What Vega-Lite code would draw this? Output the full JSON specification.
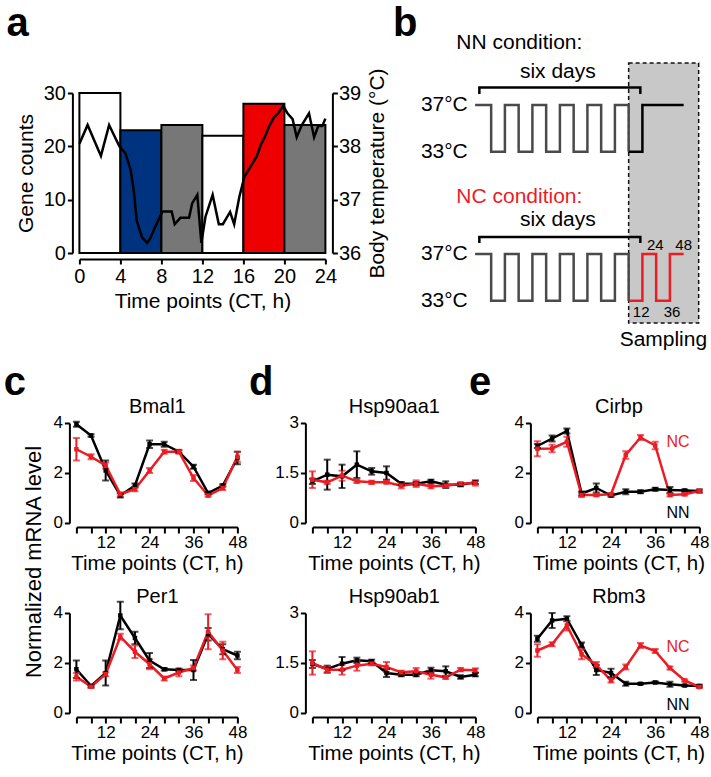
{
"$schema": "https://vega.github.io/schema/vega-lite/v6.json",
"padding": {"left": 3.4, "top": 3, "right": 4, "bottom": 4},
"config": {
  "font": "Liberation Sans",
  "view": {"stroke": null},
  "axis": {"grid": false, "domainColor": "#000", "domainWidth": 2, "tickColor": "#000", "tickWidth": 2, "labelColor": "#000", "titleColor": "#000", "labelFlush": false, "titleFontWeight": "normal", "labelOverlap": false},
  "title": {"fontWeight": "bold", "fontSize": 40, "anchor": "start", "frame": "group", "baseline": "alphabetic", "color": "#000"}
},
"datasets": {
  "bars": [
    {"start": 0, "end": 4, "count": 30, "bin": "CT0-4"},
    {"start": 4, "end": 8, "count": 23, "bin": "CT4-8"},
    {"start": 8, "end": 12, "count": 24, "bin": "CT8-12"},
    {"start": 12, "end": 16, "count": 22, "bin": "CT12-16"},
    {"start": 16, "end": 20, "count": 28, "bin": "CT16-20"},
    {"start": 20, "end": 24, "count": 24, "bin": "CT20-24"}
  ],
  "temp": [
    {"t": 0, "temp": 38.05}, {"t": 0.8, "temp": 38.4}, {"t": 2.1, "temp": 37.82}, {"t": 2.9, "temp": 38.4}, {"t": 3.4, "temp": 38.2},
    {"t": 3.9, "temp": 38.0}, {"t": 4.5, "temp": 37.87}, {"t": 5.0, "temp": 37.56}, {"t": 5.3, "temp": 37.18}, {"t": 5.6, "temp": 36.6},
    {"t": 6.1, "temp": 36.3}, {"t": 6.6, "temp": 36.19}, {"t": 6.9, "temp": 36.27}, {"t": 7.4, "temp": 36.49}, {"t": 8.1, "temp": 36.78},
    {"t": 9.0, "temp": 36.78}, {"t": 9.3, "temp": 36.54}, {"t": 9.85, "temp": 36.66}, {"t": 10.7, "temp": 36.66}, {"t": 11.0, "temp": 36.93},
    {"t": 11.5, "temp": 37.09}, {"t": 11.9, "temp": 36.19}, {"t": 12.3, "temp": 36.68}, {"t": 13.0, "temp": 37.09}, {"t": 13.6, "temp": 36.54},
    {"t": 14.0, "temp": 36.54}, {"t": 14.7, "temp": 36.77}, {"t": 15.1, "temp": 36.54}, {"t": 15.6, "temp": 37.05}, {"t": 16.1, "temp": 37.43},
    {"t": 16.7, "temp": 37.62}, {"t": 17.3, "temp": 37.81}, {"t": 17.7, "temp": 38.03}, {"t": 18.1, "temp": 38.18}, {"t": 18.5, "temp": 38.37},
    {"t": 19.0, "temp": 38.55}, {"t": 19.4, "temp": 38.62}, {"t": 19.9, "temp": 38.76}, {"t": 20.3, "temp": 38.62}, {"t": 20.8, "temp": 38.51},
    {"t": 21.2, "temp": 38.17}, {"t": 21.7, "temp": 38.4}, {"t": 22.4, "temp": 38.62}, {"t": 22.9, "temp": 38.17}, {"t": 23.3, "temp": 38.38},
    {"t": 23.7, "temp": 38.38}, {"t": 24.0, "temp": 38.52}
  ],
  "wave": [
    {"cond": "NN", "series": "pre", "t": -134, "y": 37}, {"cond": "NN", "series": "pre", "t": -120, "y": 33},
    {"cond": "NN", "series": "pre", "t": -108, "y": 37}, {"cond": "NN", "series": "pre", "t": -96, "y": 33},
    {"cond": "NN", "series": "pre", "t": -84, "y": 37}, {"cond": "NN", "series": "pre", "t": -72, "y": 33},
    {"cond": "NN", "series": "pre", "t": -60, "y": 37}, {"cond": "NN", "series": "pre", "t": -48, "y": 33},
    {"cond": "NN", "series": "pre", "t": -36, "y": 37}, {"cond": "NN", "series": "pre", "t": -24, "y": 33},
    {"cond": "NN", "series": "pre", "t": -12, "y": 37}, {"cond": "NN", "series": "pre", "t": 0, "y": 33},
    {"cond": "NN", "series": "NN", "t": 0, "y": 33}, {"cond": "NN", "series": "NN", "t": 12, "y": 37}, {"cond": "NN", "series": "NN", "t": 48, "y": 37},
    {"cond": "NC", "series": "pre", "t": -134, "y": 37}, {"cond": "NC", "series": "pre", "t": -120, "y": 33},
    {"cond": "NC", "series": "pre", "t": -108, "y": 37}, {"cond": "NC", "series": "pre", "t": -96, "y": 33},
    {"cond": "NC", "series": "pre", "t": -84, "y": 37}, {"cond": "NC", "series": "pre", "t": -72, "y": 33},
    {"cond": "NC", "series": "pre", "t": -60, "y": 37}, {"cond": "NC", "series": "pre", "t": -48, "y": 33},
    {"cond": "NC", "series": "pre", "t": -36, "y": 37}, {"cond": "NC", "series": "pre", "t": -24, "y": 33},
    {"cond": "NC", "series": "pre", "t": -12, "y": 37}, {"cond": "NC", "series": "pre", "t": 0, "y": 33},
    {"cond": "NC", "series": "NC", "t": 0, "y": 33}, {"cond": "NC", "series": "NC", "t": 12, "y": 37}, {"cond": "NC", "series": "NC", "t": 24, "y": 33},
    {"cond": "NC", "series": "NC", "t": 36, "y": 37}, {"cond": "NC", "series": "NC", "t": 48, "y": 37}
  ],
  "brk": [
    {"cond": "NN", "o": 1, "t": -130.3, "y": 37.95}, {"cond": "NN", "o": 2, "t": -130.3, "y": 38.5},
    {"cond": "NN", "o": 3, "t": 10.2, "y": 38.5}, {"cond": "NN", "o": 4, "t": 10.2, "y": 37.95},
    {"cond": "NC", "o": 1, "t": -130.3, "y": 37.94}, {"cond": "NC", "o": 2, "t": -130.3, "y": 38.45},
    {"cond": "NC", "o": 3, "t": 10.2, "y": 38.45}, {"cond": "NC", "o": 4, "t": 10.2, "y": 37.94}
  ],
  "btext": [
    {"cond": "NN", "kind": "temp", "t": -140.4, "y": 37, "txt": "37°C", "series": "NN"},
    {"cond": "NN", "kind": "temp", "t": -140.4, "y": 33, "txt": "33°C", "series": "NN"},
    {"cond": "NN", "kind": "head", "t": -95.4, "y": 42.3, "txt": "NN condition:", "series": "NN"},
    {"cond": "NN", "kind": "head", "t": -61.8, "y": 39.82, "txt": "six days", "series": "NN"},
    {"cond": "NC", "kind": "temp", "t": -140.4, "y": 37, "txt": "37°C", "series": "NN"},
    {"cond": "NC", "kind": "temp", "t": -140.4, "y": 33, "txt": "33°C", "series": "NN"},
    {"cond": "NC", "kind": "head", "t": -95.4, "y": 41.87, "txt": "NC condition:", "series": "NC"},
    {"cond": "NC", "kind": "head", "t": -61.8, "y": 39.91, "txt": "six days", "series": "NN"},
    {"cond": "NC", "kind": "head", "t": 30.3, "y": 29.65, "txt": "Sampling", "series": "NN"},
    {"cond": "NC", "kind": "num", "t": 10.9, "y": 32.07, "txt": "12", "series": "NN"},
    {"cond": "NC", "kind": "num", "t": 23.3, "y": 37.77, "txt": "24", "series": "NN"},
    {"cond": "NC", "kind": "num", "t": 37.8, "y": 32.07, "txt": "36", "series": "NN"},
    {"cond": "NC", "kind": "num", "t": 48, "y": 37.77, "txt": "48", "series": "NN"}
  ],
  "box": [{"t0": 0, "t1": 61.1, "ytop": 40.59, "ybot": 18.37}],
  "tags": [
    {"g": "Cirbp", "c": "NC", "t": 42.2, "v": 3.23, "txt": "NC"},
    {"g": "Cirbp", "c": "NN", "t": 42.2, "v": 0.39, "txt": "NN"},
    {"g": "Rbm3", "c": "NC", "t": 42.2, "v": 2.63, "txt": "NC"},
    {"g": "Rbm3", "c": "NN", "t": 42.2, "v": 0.31, "txt": "NN"}
  ],
  "expr": [
    {"g":"Bmal1","c":"NN","t":4,"v":3.95,"e":0.1},{"g":"Bmal1","c":"NN","t":8,"v":3.5,"e":0.05},{"g":"Bmal1","c":"NN","t":12,"v":2.1,"e":0.4},{"g":"Bmal1","c":"NN","t":16,"v":1.1,"e":0.08},{"g":"Bmal1","c":"NN","t":20,"v":1.5,"e":0.08},{"g":"Bmal1","c":"NN","t":24,"v":3.15,"e":0.15},{"g":"Bmal1","c":"NN","t":28,"v":3.15,"e":0.1},{"g":"Bmal1","c":"NN","t":32,"v":2.85,"e":0.05},{"g":"Bmal1","c":"NN","t":36,"v":2.25,"e":0.08},{"g":"Bmal1","c":"NN","t":40,"v":1.2,"e":0.05},{"g":"Bmal1","c":"NN","t":44,"v":1.5,"e":0.05},{"g":"Bmal1","c":"NN","t":48,"v":2.6,"e":0.25},
    {"g":"Bmal1","c":"NC","t":4,"v":2.95,"e":0.45},{"g":"Bmal1","c":"NC","t":8,"v":2.65,"e":0.1},{"g":"Bmal1","c":"NC","t":12,"v":2.3,"e":0.12},{"g":"Bmal1","c":"NC","t":16,"v":1.15,"e":0.08},{"g":"Bmal1","c":"NC","t":20,"v":1.35,"e":0.08},{"g":"Bmal1","c":"NC","t":24,"v":2.1,"e":0.1},{"g":"Bmal1","c":"NC","t":28,"v":2.85,"e":0.08},{"g":"Bmal1","c":"NC","t":32,"v":2.85,"e":0.08},{"g":"Bmal1","c":"NC","t":36,"v":1.8,"e":0.12},{"g":"Bmal1","c":"NC","t":40,"v":1.1,"e":0.05},{"g":"Bmal1","c":"NC","t":44,"v":1.4,"e":0.08},{"g":"Bmal1","c":"NC","t":48,"v":2.65,"e":0.2},
    {"g":"Per1","c":"NN","t":4,"v":1.75,"e":0.35},{"g":"Per1","c":"NN","t":8,"v":1.08,"e":0.05},{"g":"Per1","c":"NN","t":12,"v":1.6,"e":0.5},{"g":"Per1","c":"NN","t":16,"v":3.9,"e":0.55},{"g":"Per1","c":"NN","t":20,"v":3.0,"e":0.25},{"g":"Per1","c":"NN","t":24,"v":2.1,"e":0.3},{"g":"Per1","c":"NN","t":28,"v":1.75,"e":0.05},{"g":"Per1","c":"NN","t":32,"v":1.72,"e":0.05},{"g":"Per1","c":"NN","t":36,"v":1.72,"e":0.4},{"g":"Per1","c":"NN","t":40,"v":3.15,"e":0.25},{"g":"Per1","c":"NN","t":44,"v":2.55,"e":0.2},{"g":"Per1","c":"NN","t":48,"v":2.3,"e":0.15},
    {"g":"Per1","c":"NC","t":4,"v":1.45,"e":0.15},{"g":"Per1","c":"NC","t":8,"v":1.05,"e":0.05},{"g":"Per1","c":"NC","t":12,"v":1.55,"e":0.08},{"g":"Per1","c":"NC","t":16,"v":3.05,"e":0.12},{"g":"Per1","c":"NC","t":20,"v":2.45,"e":0.25},{"g":"Per1","c":"NC","t":24,"v":1.95,"e":0.2},{"g":"Per1","c":"NC","t":28,"v":1.38,"e":0.08},{"g":"Per1","c":"NC","t":32,"v":1.62,"e":0.15},{"g":"Per1","c":"NC","t":36,"v":1.8,"e":0.1},{"g":"Per1","c":"NC","t":40,"v":3.25,"e":0.7},{"g":"Per1","c":"NC","t":44,"v":2.5,"e":0.35},{"g":"Per1","c":"NC","t":48,"v":1.72,"e":0.12},
    {"g":"Hsp90aa1","c":"NN","t":4,"v":1.25,"e":0.08},{"g":"Hsp90aa1","c":"NN","t":8,"v":1.45,"e":0.45},{"g":"Hsp90aa1","c":"NN","t":12,"v":1.4,"e":0.35},{"g":"Hsp90aa1","c":"NN","t":16,"v":1.75,"e":0.4},{"g":"Hsp90aa1","c":"NN","t":20,"v":1.55,"e":0.1},{"g":"Hsp90aa1","c":"NN","t":24,"v":1.5,"e":0.2},{"g":"Hsp90aa1","c":"NN","t":28,"v":1.18,"e":0.05},{"g":"Hsp90aa1","c":"NN","t":32,"v":1.18,"e":0.05},{"g":"Hsp90aa1","c":"NN","t":36,"v":1.25,"e":0.05},{"g":"Hsp90aa1","c":"NN","t":40,"v":1.15,"e":0.1},{"g":"Hsp90aa1","c":"NN","t":44,"v":1.15,"e":0.05},{"g":"Hsp90aa1","c":"NN","t":48,"v":1.22,"e":0.05},
    {"g":"Hsp90aa1","c":"NC","t":4,"v":1.3,"e":0.25},{"g":"Hsp90aa1","c":"NC","t":8,"v":1.22,"e":0.05},{"g":"Hsp90aa1","c":"NC","t":12,"v":1.42,"e":0.15},{"g":"Hsp90aa1","c":"NC","t":16,"v":1.25,"e":0.05},{"g":"Hsp90aa1","c":"NC","t":20,"v":1.22,"e":0.05},{"g":"Hsp90aa1","c":"NC","t":24,"v":1.22,"e":0.04},{"g":"Hsp90aa1","c":"NC","t":28,"v":1.12,"e":0.08},{"g":"Hsp90aa1","c":"NC","t":32,"v":1.18,"e":0.1},{"g":"Hsp90aa1","c":"NC","t":36,"v":1.1,"e":0.06},{"g":"Hsp90aa1","c":"NC","t":40,"v":1.12,"e":0.04},{"g":"Hsp90aa1","c":"NC","t":44,"v":1.18,"e":0.04},{"g":"Hsp90aa1","c":"NC","t":48,"v":1.2,"e":0.08},
    {"g":"Hsp90ab1","c":"NN","t":4,"v":1.47,"e":0.12},{"g":"Hsp90ab1","c":"NN","t":8,"v":1.32,"e":0.1},{"g":"Hsp90ab1","c":"NN","t":12,"v":1.48,"e":0.2},{"g":"Hsp90ab1","c":"NN","t":16,"v":1.58,"e":0.08},{"g":"Hsp90ab1","c":"NN","t":20,"v":1.55,"e":0.05},{"g":"Hsp90ab1","c":"NN","t":24,"v":1.2,"e":0.12},{"g":"Hsp90ab1","c":"NN","t":28,"v":1.15,"e":0.05},{"g":"Hsp90ab1","c":"NN","t":32,"v":1.15,"e":0.05},{"g":"Hsp90ab1","c":"NN","t":36,"v":1.28,"e":0.08},{"g":"Hsp90ab1","c":"NN","t":40,"v":1.25,"e":0.15},{"g":"Hsp90ab1","c":"NN","t":44,"v":1.08,"e":0.05},{"g":"Hsp90ab1","c":"NN","t":48,"v":1.15,"e":0.05},
    {"g":"Hsp90ab1","c":"NC","t":4,"v":1.5,"e":0.35},{"g":"Hsp90ab1","c":"NC","t":8,"v":1.3,"e":0.1},{"g":"Hsp90ab1","c":"NC","t":12,"v":1.3,"e":0.15},{"g":"Hsp90ab1","c":"NC","t":16,"v":1.42,"e":0.15},{"g":"Hsp90ab1","c":"NC","t":20,"v":1.48,"e":0.05},{"g":"Hsp90ab1","c":"NC","t":24,"v":1.38,"e":0.15},{"g":"Hsp90ab1","c":"NC","t":28,"v":1.22,"e":0.05},{"g":"Hsp90ab1","c":"NC","t":32,"v":1.25,"e":0.1},{"g":"Hsp90ab1","c":"NC","t":36,"v":1.15,"e":0.12},{"g":"Hsp90ab1","c":"NC","t":40,"v":1.07,"e":0.05},{"g":"Hsp90ab1","c":"NC","t":44,"v":1.3,"e":0.05},{"g":"Hsp90ab1","c":"NC","t":48,"v":1.28,"e":0.06},
    {"g":"Cirbp","c":"NN","t":4,"v":3.08,"e":0.08},{"g":"Cirbp","c":"NN","t":8,"v":3.38,"e":0.12},{"g":"Cirbp","c":"NN","t":12,"v":3.68,"e":0.1},{"g":"Cirbp","c":"NN","t":16,"v":1.18,"e":0.08},{"g":"Cirbp","c":"NN","t":20,"v":1.4,"e":0.18},{"g":"Cirbp","c":"NN","t":24,"v":1.1,"e":0.05},{"g":"Cirbp","c":"NN","t":28,"v":1.25,"e":0.1},{"g":"Cirbp","c":"NN","t":32,"v":1.25,"e":0.06},{"g":"Cirbp","c":"NN","t":36,"v":1.35,"e":0.06},{"g":"Cirbp","c":"NN","t":40,"v":1.32,"e":0.12},{"g":"Cirbp","c":"NN","t":44,"v":1.3,"e":0.04},{"g":"Cirbp","c":"NN","t":48,"v":1.28,"e":0.06},
    {"g":"Cirbp","c":"NC","t":4,"v":2.97,"e":0.3},{"g":"Cirbp","c":"NC","t":8,"v":2.98,"e":0.15},{"g":"Cirbp","c":"NC","t":12,"v":3.25,"e":0.2},{"g":"Cirbp","c":"NC","t":16,"v":1.12,"e":0.08},{"g":"Cirbp","c":"NC","t":20,"v":1.12,"e":0.05},{"g":"Cirbp","c":"NC","t":24,"v":1.15,"e":0.05},{"g":"Cirbp","c":"NC","t":28,"v":2.72,"e":0.15},{"g":"Cirbp","c":"NC","t":32,"v":3.42,"e":0.1},{"g":"Cirbp","c":"NC","t":36,"v":3.1,"e":0.15},{"g":"Cirbp","c":"NC","t":40,"v":1.12,"e":0.05},{"g":"Cirbp","c":"NC","t":44,"v":1.15,"e":0.05},{"g":"Cirbp","c":"NC","t":48,"v":1.28,"e":0.05},
    {"g":"Rbm3","c":"NN","t":4,"v":2.97,"e":0.12},{"g":"Rbm3","c":"NN","t":8,"v":3.7,"e":0.3},{"g":"Rbm3","c":"NN","t":12,"v":3.77,"e":0.1},{"g":"Rbm3","c":"NN","t":16,"v":2.72,"e":0.1},{"g":"Rbm3","c":"NN","t":20,"v":1.72,"e":0.2},{"g":"Rbm3","c":"NN","t":24,"v":1.6,"e":0.17},{"g":"Rbm3","c":"NN","t":28,"v":1.17,"e":0.08},{"g":"Rbm3","c":"NN","t":32,"v":1.17,"e":0.03},{"g":"Rbm3","c":"NN","t":36,"v":1.22,"e":0.04},{"g":"Rbm3","c":"NN","t":40,"v":1.15,"e":0.1},{"g":"Rbm3","c":"NN","t":44,"v":1.1,"e":0.03},{"g":"Rbm3","c":"NN","t":48,"v":1.08,"e":0.05},
    {"g":"Rbm3","c":"NC","t":4,"v":2.5,"e":0.25},{"g":"Rbm3","c":"NC","t":8,"v":2.75,"e":0.08},{"g":"Rbm3","c":"NC","t":12,"v":3.5,"e":0.2},{"g":"Rbm3","c":"NC","t":16,"v":2.35,"e":0.2},{"g":"Rbm3","c":"NC","t":20,"v":1.92,"e":0.12},{"g":"Rbm3","c":"NC","t":24,"v":1.3,"e":0.08},{"g":"Rbm3","c":"NC","t":28,"v":1.84,"e":0.1},{"g":"Rbm3","c":"NC","t":32,"v":2.7,"e":0.1},{"g":"Rbm3","c":"NC","t":36,"v":2.48,"e":0.08},{"g":"Rbm3","c":"NC","t":40,"v":1.8,"e":0.06},{"g":"Rbm3","c":"NC","t":44,"v":1.3,"e":0.04},{"g":"Rbm3","c":"NC","t":48,"v":1.04,"e":0.04}
  ]
},
"columns": 3,
"spacing": {"row": 90, "column": -13},
"bounds": "flush",
"align": "none",
"resolve": {"scale": {"color": "independent"}},
"concat": [
  {
    "width": 249, "height": 160,
    "title": {"text": "a", "dx": -70, "offset": 24},
    "layer": [
      {
        "data": {"name": "bars"},
        "mark": {"type": "rect", "stroke": "#000", "strokeWidth": 2},
        "encoding": {
          "x": {"field": "start", "type": "quantitative", "scale": {"domain": [0, 24], "range": [3, 249], "nice": false, "zero": false},
                "axis": {"values": [0,2,4,6,8,10,12,14,16,18,20,22,24], "labelExpr": "datum.value % 4 === 0 ? datum.label : ''", "title": "Time points (CT, h)", "offset": 6, "tickSize": 5, "labelFontSize": 20, "titleFontSize": 21, "labelPadding": 2, "titlePadding": 4}},
          "x2": {"field": "end"},
          "y": {"field": "count", "type": "quantitative", "scale": {"domain": [0, 30], "nice": false},
                "axis": {"values": [0, 10, 20, 30], "title": "Gene counts", "offset": 4, "tickSize": 5, "labelFontSize": 20, "titleFontSize": 21, "labelPadding": 2, "titleX": -46, "titleY": 80, "titleAngle": 270, "titleBaseline": "middle", "titleAlign": "center"}},
          "y2": {"datum": 0},
          "fill": {"field": "bin", "type": "nominal", "scale": {"domain": ["CT0-4", "CT4-8", "CT8-12", "CT12-16", "CT16-20", "CT20-24"], "range": ["#ffffff", "#00337f", "#777777", "#ffffff", "#ee0000", "#777777"]}, "legend": null}
        }
      },
      {
        "data": {"name": "temp"},
        "mark": {"type": "line", "color": "#000", "strokeWidth": 2.5},
        "encoding": {
          "x": {"field": "t", "type": "quantitative"},
          "y": {"field": "temp", "type": "quantitative", "scale": {"domain": [36, 39], "nice": false, "zero": false},
                "axis": {"orient": "right", "values": [36, 37, 38, 39], "title": "Body temperature (°C)", "offset": 7, "tickSize": 5, "labelFontSize": 20, "titleFontSize": 21, "labelPadding": 1, "titleX": 45.5, "titleY": 80, "titleAngle": 270, "titleBaseline": "middle", "titleAlign": "center"}}
        }
      }
    ],
    "resolve": {"scale": {"y": "independent"}}
  },
  {
    "width": 238, "height": 240,
    "title": {"text": "b", "dx": 80.5, "offset": -12.5},
    "layer": [
      {
        "layer": [
          {
            "data": {"name": "box"},
            "mark": {"type": "rect", "fill": "#c8c8c8", "stroke": "#111", "strokeWidth": 1.5, "strokeDash": [4, 3]},
            "encoding": {
              "x": {"field": "t0", "type": "quantitative", "scale": {"domain": [-276, -68.3], "nice": false, "zero": false}, "axis": null},
              "x2": {"field": "t1"},
              "y": {"field": "ytop", "type": "quantitative", "scale": {"domain": [17.513, 38.026], "nice": false, "zero": false}, "axis": null},
              "y2": {"field": "ybot"}
            }
          },
          {
            "data": {"name": "wave"},
            "transform": [{"filter": "datum.cond === 'NN'"}],
            "mark": {"type": "line", "interpolate": "step-after", "strokeWidth": 2.5, "strokeJoin": "miter"},
            "encoding": {
              "x": {"field": "t", "type": "quantitative", "axis": null},
              "y": {"field": "y", "type": "quantitative", "axis": null},
              "color": {"field": "series", "type": "nominal", "scale": {"domain": ["pre", "NN", "NC"], "range": ["#4a4a4a", "#000000", "#ec1c24"]}, "legend": null}
            }
          },
          {
            "data": {"name": "brk"},
            "transform": [{"filter": "datum.cond === 'NN'"}],
            "mark": {"type": "line", "color": "#000", "strokeWidth": 2.5, "strokeJoin": "miter"},
            "encoding": {
              "x": {"field": "t", "type": "quantitative", "axis": null},
              "y": {"field": "y", "type": "quantitative", "axis": null},
              "order": {"field": "o"}
            }
          },
          {
            "data": {"name": "btext"},
            "transform": [{"filter": "datum.cond === 'NN' && datum.kind === 'temp'"}],
            "mark": {"type": "text", "align": "right", "baseline": "middle", "fontSize": 21, "color": "#000"},
            "encoding": {
              "x": {"field": "t", "type": "quantitative", "axis": null},
              "y": {"field": "y", "type": "quantitative", "axis": null},
              "text": {"field": "txt"}
            }
          },
          {
            "data": {"name": "btext"},
            "transform": [{"filter": "datum.cond === 'NN' && datum.kind === 'head'"}],
            "mark": {"type": "text", "align": "center", "baseline": "middle", "fontSize": 21},
            "encoding": {
              "x": {"field": "t", "type": "quantitative", "axis": null},
              "y": {"field": "y", "type": "quantitative", "axis": null},
              "text": {"field": "txt"},
              "color": {"field": "series", "type": "nominal", "legend": null}
            }
          }
        ]
      },
      {
        "layer": [
          {
            "data": {"name": "wave"},
            "transform": [{"filter": "datum.cond === 'NC'"}],
            "mark": {"type": "line", "interpolate": "step-after", "strokeWidth": 2.5, "strokeJoin": "miter"},
            "encoding": {
              "x": {"field": "t", "type": "quantitative", "axis": null},
              "y": {"field": "y", "type": "quantitative", "scale": {"domain": [30.248, 50.761], "nice": false, "zero": false}, "axis": null},
              "color": {"field": "series", "type": "nominal", "scale": {"domain": ["pre", "NN", "NC"], "range": ["#4a4a4a", "#000000", "#ec1c24"]}, "legend": null}
            }
          },
          {
            "data": {"name": "brk"},
            "transform": [{"filter": "datum.cond === 'NC'"}],
            "mark": {"type": "line", "color": "#000", "strokeWidth": 2.5, "strokeJoin": "miter"},
            "encoding": {
              "x": {"field": "t", "type": "quantitative", "axis": null},
              "y": {"field": "y", "type": "quantitative", "axis": null},
              "order": {"field": "o"}
            }
          },
          {
            "data": {"name": "btext"},
            "transform": [{"filter": "datum.cond === 'NC' && datum.kind === 'temp'"}],
            "mark": {"type": "text", "align": "right", "baseline": "middle", "fontSize": 21, "color": "#000"},
            "encoding": {
              "x": {"field": "t", "type": "quantitative", "axis": null},
              "y": {"field": "y", "type": "quantitative", "axis": null},
              "text": {"field": "txt"}
            }
          },
          {
            "data": {"name": "btext"},
            "transform": [{"filter": "datum.cond === 'NC' && datum.kind === 'head'"}],
            "mark": {"type": "text", "align": "center", "baseline": "middle", "fontSize": 21},
            "encoding": {
              "x": {"field": "t", "type": "quantitative", "axis": null},
              "y": {"field": "y", "type": "quantitative", "axis": null},
              "text": {"field": "txt"},
              "color": {"field": "series", "type": "nominal", "legend": null}
            }
          },
          {
            "data": {"name": "btext"},
            "transform": [{"filter": "datum.cond === 'NC' && datum.kind === 'num'"}],
            "mark": {"type": "text", "align": "center", "baseline": "middle", "fontSize": 15, "color": "#000"},
            "encoding": {
              "x": {"field": "t", "type": "quantitative", "axis": null},
              "y": {"field": "y", "type": "quantitative", "axis": null},
              "text": {"field": "txt"}
            }
          }
        ]
      }
    ],
    "resolve": {"scale": {"y": "independent"}}
  },
  {
    "width": 1, "height": 1,
    "data": {"values": [{}]},
    "mark": {"type": "point", "opacity": 0},
    "encoding": {}
  },
  {
    "width": 161, "height": 100,
    "title": {"text": "c", "dx": -72.6, "offset": -6},
    "data": {"name": "expr"},
    "transform": [{"filter": "datum.g === 'Bmal1'"}],
    "layer": [
      {"mark": {"type": "line", "strokeWidth": 2.5},
       "encoding": {
         "x": {"field": "t", "type": "quantitative", "scale": {"domain": [4, 48], "nice": false, "zero": false},
               "axis": {"values": [4,8,12,16,20,24,28,32,36,40,44,48], "labelExpr": "datum.value % 12 === 0 ? datum.label : ''", "title": "Time points (CT, h)", "offset": 4, "tickSize": 6, "labelFontSize": 17, "titleFontSize": 20.5, "labelPadding": 2, "titlePadding": 3}},
         "y": {"field": "v", "type": "quantitative", "scale": {"domain": [0, 4], "nice": false},
               "axis": {"values": [0, 2, 4], "title": "Normalized mRNA level", "offset": 7, "tickSize": 5, "labelFontSize": 17, "labelPadding": 2, "titleFontSize": 22, "titleX": -36, "titleY": 138.5, "titleAngle": 270, "titleBaseline": "middle", "titleAlign": "center"}},
         "color": {"field": "c", "type": "nominal", "scale": {"domain": ["NN", "NC"], "range": ["#000000", "#ec1c24"]}, "legend": null}
       }},
      {"mark": {"type": "errorbar", "ticks": {"size": 7, "thickness": 2}, "rule": {"strokeWidth": 2}},
       "encoding": {
         "x": {"field": "t", "type": "quantitative", "axis": null},
         "y": {"field": "v", "type": "quantitative",
               "axis": {"values": [0, 2, 4], "title": "Normalized mRNA level", "offset": 7, "tickSize": 5, "labelFontSize": 17, "labelPadding": 2, "titleFontSize": 22, "titleX": -36, "titleY": 138.5, "titleAngle": 270, "titleBaseline": "middle", "titleAlign": "center"}},
         "yError": {"field": "e"},
         "color": {"field": "c", "type": "nominal", "legend": null}
       }},
      {"mark": {"type": "point", "shape": "square", "filled": true, "size": 20, "opacity": 1},
       "encoding": {
         "x": {"field": "t", "type": "quantitative", "axis": {"orient": "top", "title": "Bmal1", "labels": false, "ticks": false, "tickSize": 0, "domain": false, "titleFontSize": 20, "titlePadding": 6}},
         "y": {"field": "v", "type": "quantitative",
               "axis": {"values": [0, 2, 4], "title": "Normalized mRNA level", "offset": 7, "tickSize": 5, "labelFontSize": 17, "labelPadding": 2, "titleFontSize": 22, "titleX": -36, "titleY": 138.5, "titleAngle": 270, "titleBaseline": "middle", "titleAlign": "center"}},
         "color": {"field": "c", "type": "nominal", "legend": null}
       }}
    ],
    "resolve": {"axis": {"x": "independent"}}
  },
  {
    "width": 163, "height": 100,
    "title": {"text": "d", "dx": -63.3, "offset": -6},
    "data": {"name": "expr"},
    "transform": [{"filter": "datum.g === 'Hsp90aa1'"}],
    "layer": [
      {"mark": {"type": "line", "strokeWidth": 2.5},
       "encoding": {
         "x": {"field": "t", "type": "quantitative", "scale": {"domain": [4, 48], "nice": false, "zero": false},
               "axis": {"values": [4,8,12,16,20,24,28,32,36,40,44,48], "labelExpr": "datum.value % 12 === 0 ? datum.label : ''", "title": "Time points (CT, h)", "offset": 4, "tickSize": 6, "labelFontSize": 17, "titleFontSize": 20.5, "labelPadding": 2, "titlePadding": 3}},
         "y": {"field": "v", "type": "quantitative", "scale": {"domain": [0, 3], "nice": false},
               "axis": {"values": [0, 1.5, 3], "format": ".1~f", "title": null, "offset": 7, "tickSize": 5, "labelFontSize": 17, "labelPadding": 2}},
         "color": {"field": "c", "type": "nominal", "scale": {"domain": ["NN", "NC"], "range": ["#000000", "#ec1c24"]}, "legend": null}
       }},
      {"mark": {"type": "errorbar", "ticks": {"size": 7, "thickness": 2}, "rule": {"strokeWidth": 2}},
       "encoding": {
         "x": {"field": "t", "type": "quantitative", "axis": null},
         "y": {"field": "v", "type": "quantitative", "axis": {"values": [0, 1.5, 3], "format": ".1~f", "title": null, "offset": 7, "tickSize": 5, "labelFontSize": 17, "labelPadding": 2}},
         "yError": {"field": "e"},
         "color": {"field": "c", "type": "nominal", "legend": null}
       }},
      {"mark": {"type": "point", "shape": "square", "filled": true, "size": 20, "opacity": 1},
       "encoding": {
         "x": {"field": "t", "type": "quantitative", "axis": {"orient": "top", "title": "Hsp90aa1", "labels": false, "ticks": false, "tickSize": 0, "domain": false, "titleFontSize": 20, "titlePadding": 6}},
         "y": {"field": "v", "type": "quantitative", "axis": {"values": [0, 1.5, 3], "format": ".1~f", "title": null, "offset": 7, "tickSize": 5, "labelFontSize": 17, "labelPadding": 2}},
         "color": {"field": "c", "type": "nominal", "legend": null}
       }}
    ],
    "resolve": {"axis": {"x": "independent"}}
  },
  {
    "width": 162, "height": 100,
    "title": {"text": "e", "dx": -68.3, "offset": -6},
    "layer": [
      {"data": {"name": "expr"},
       "transform": [{"filter": "datum.g === 'Cirbp'"}],
       "mark": {"type": "line", "strokeWidth": 2.5},
       "encoding": {
         "x": {"field": "t", "type": "quantitative", "scale": {"domain": [4, 48], "nice": false, "zero": false},
               "axis": {"values": [4,8,12,16,20,24,28,32,36,40,44,48], "labelExpr": "datum.value % 12 === 0 ? datum.label : ''", "title": "Time points (CT, h)", "offset": 4, "tickSize": 6, "labelFontSize": 17, "titleFontSize": 20.5, "labelPadding": 2, "titlePadding": 3}},
         "y": {"field": "v", "type": "quantitative", "scale": {"domain": [0, 4], "nice": false},
               "axis": {"values": [0, 2, 4], "title": null, "offset": 7, "tickSize": 5, "labelFontSize": 17, "labelPadding": 2}},
         "color": {"field": "c", "type": "nominal", "scale": {"domain": ["NN", "NC"], "range": ["#000000", "#ec1c24"]}, "legend": null}
       }},
      {"data": {"name": "expr"},
       "transform": [{"filter": "datum.g === 'Cirbp'"}],
       "mark": {"type": "errorbar", "ticks": {"size": 7, "thickness": 2}, "rule": {"strokeWidth": 2}},
       "encoding": {
         "x": {"field": "t", "type": "quantitative", "axis": null},
         "y": {"field": "v", "type": "quantitative", "axis": {"values": [0, 2, 4], "title": null, "offset": 7, "tickSize": 5, "labelFontSize": 17, "labelPadding": 2}},
         "yError": {"field": "e"},
         "color": {"field": "c", "type": "nominal", "legend": null}
       }},
      {"data": {"name": "expr"},
       "transform": [{"filter": "datum.g === 'Cirbp'"}],
       "mark": {"type": "point", "shape": "square", "filled": true, "size": 20, "opacity": 1},
       "encoding": {
         "x": {"field": "t", "type": "quantitative", "axis": {"orient": "top", "title": "Cirbp", "labels": false, "ticks": false, "tickSize": 0, "domain": false, "titleFontSize": 20, "titlePadding": 6}},
         "y": {"field": "v", "type": "quantitative", "axis": {"values": [0, 2, 4], "title": null, "offset": 7, "tickSize": 5, "labelFontSize": 17, "labelPadding": 2}},
         "color": {"field": "c", "type": "nominal", "legend": null}
       }},
      {"data": {"name": "tags"},
       "transform": [{"filter": "datum.g === 'Cirbp'"}],
       "mark": {"type": "text", "fontSize": 16, "align": "center", "baseline": "middle"},
       "encoding": {
         "x": {"field": "t", "type": "quantitative", "axis": null},
         "y": {"field": "v", "type": "quantitative", "axis": {"values": [0, 2, 4], "title": null, "offset": 7, "tickSize": 5, "labelFontSize": 17, "labelPadding": 2}},
         "text": {"field": "txt"},
         "color": {"field": "c", "type": "nominal", "legend": null}
       }}
    ],
    "resolve": {"axis": {"x": "independent"}}
  },
  {
    "width": 161, "height": 100,
    "data": {"name": "expr"},
    "transform": [{"filter": "datum.g === 'Per1'"}],
    "layer": [
      {"mark": {"type": "line", "strokeWidth": 2.5},
       "encoding": {
         "x": {"field": "t", "type": "quantitative", "scale": {"domain": [4, 48], "nice": false, "zero": false},
               "axis": {"values": [4,8,12,16,20,24,28,32,36,40,44,48], "labelExpr": "datum.value % 12 === 0 ? datum.label : ''", "title": "Time points (CT, h)", "offset": 4, "tickSize": 6, "labelFontSize": 17, "titleFontSize": 20.5, "labelPadding": 2, "titlePadding": 3}},
         "y": {"field": "v", "type": "quantitative", "scale": {"domain": [0, 4], "nice": false},
               "axis": {"values": [0, 2, 4], "title": null, "offset": 7, "tickSize": 5, "labelFontSize": 17, "labelPadding": 2}},
         "color": {"field": "c", "type": "nominal", "scale": {"domain": ["NN", "NC"], "range": ["#000000", "#ec1c24"]}, "legend": null}
       }},
      {"mark": {"type": "errorbar", "ticks": {"size": 7, "thickness": 2}, "rule": {"strokeWidth": 2}},
       "encoding": {
         "x": {"field": "t", "type": "quantitative", "axis": null},
         "y": {"field": "v", "type": "quantitative", "axis": {"values": [0, 2, 4], "title": null, "offset": 7, "tickSize": 5, "labelFontSize": 17, "labelPadding": 2}},
         "yError": {"field": "e"},
         "color": {"field": "c", "type": "nominal", "legend": null}
       }},
      {"mark": {"type": "point", "shape": "square", "filled": true, "size": 20, "opacity": 1},
       "encoding": {
         "x": {"field": "t", "type": "quantitative", "axis": {"orient": "top", "title": "Per1", "labels": false, "ticks": false, "tickSize": 0, "domain": false, "titleFontSize": 20, "titlePadding": 6}},
         "y": {"field": "v", "type": "quantitative", "axis": {"values": [0, 2, 4], "title": null, "offset": 7, "tickSize": 5, "labelFontSize": 17, "labelPadding": 2}},
         "color": {"field": "c", "type": "nominal", "legend": null}
       }}
    ],
    "resolve": {"axis": {"x": "independent"}}
  },
  {
    "width": 163, "height": 100,
    "data": {"name": "expr"},
    "transform": [{"filter": "datum.g === 'Hsp90ab1'"}],
    "layer": [
      {"mark": {"type": "line", "strokeWidth": 2.5},
       "encoding": {
         "x": {"field": "t", "type": "quantitative", "scale": {"domain": [4, 48], "nice": false, "zero": false},
               "axis": {"values": [4,8,12,16,20,24,28,32,36,40,44,48], "labelExpr": "datum.value % 12 === 0 ? datum.label : ''", "title": "Time points (CT, h)", "offset": 4, "tickSize": 6, "labelFontSize": 17, "titleFontSize": 20.5, "labelPadding": 2, "titlePadding": 3}},
         "y": {"field": "v", "type": "quantitative", "scale": {"domain": [0, 3], "nice": false},
               "axis": {"values": [0, 1.5, 3], "format": ".1~f", "title": null, "offset": 7, "tickSize": 5, "labelFontSize": 17, "labelPadding": 2}},
         "color": {"field": "c", "type": "nominal", "scale": {"domain": ["NN", "NC"], "range": ["#000000", "#ec1c24"]}, "legend": null}
       }},
      {"mark": {"type": "errorbar", "ticks": {"size": 7, "thickness": 2}, "rule": {"strokeWidth": 2}},
       "encoding": {
         "x": {"field": "t", "type": "quantitative", "axis": null},
         "y": {"field": "v", "type": "quantitative", "axis": {"values": [0, 1.5, 3], "format": ".1~f", "title": null, "offset": 7, "tickSize": 5, "labelFontSize": 17, "labelPadding": 2}},
         "yError": {"field": "e"},
         "color": {"field": "c", "type": "nominal", "legend": null}
       }},
      {"mark": {"type": "point", "shape": "square", "filled": true, "size": 20, "opacity": 1},
       "encoding": {
         "x": {"field": "t", "type": "quantitative", "axis": {"orient": "top", "title": "Hsp90ab1", "labels": false, "ticks": false, "tickSize": 0, "domain": false, "titleFontSize": 20, "titlePadding": 6}},
         "y": {"field": "v", "type": "quantitative", "axis": {"values": [0, 1.5, 3], "format": ".1~f", "title": null, "offset": 7, "tickSize": 5, "labelFontSize": 17, "labelPadding": 2}},
         "color": {"field": "c", "type": "nominal", "legend": null}
       }}
    ],
    "resolve": {"axis": {"x": "independent"}}
  },
  {
    "width": 162, "height": 100,
    "layer": [
      {"data": {"name": "expr"},
       "transform": [{"filter": "datum.g === 'Rbm3'"}],
       "mark": {"type": "line", "strokeWidth": 2.5},
       "encoding": {
         "x": {"field": "t", "type": "quantitative", "scale": {"domain": [4, 48], "nice": false, "zero": false},
               "axis": {"values": [4,8,12,16,20,24,28,32,36,40,44,48], "labelExpr": "datum.value % 12 === 0 ? datum.label : ''", "title": "Time points (CT, h)", "offset": 4, "tickSize": 6, "labelFontSize": 17, "titleFontSize": 20.5, "labelPadding": 2, "titlePadding": 3}},
         "y": {"field": "v", "type": "quantitative", "scale": {"domain": [0, 4], "nice": false},
               "axis": {"values": [0, 2, 4], "title": null, "offset": 7, "tickSize": 5, "labelFontSize": 17, "labelPadding": 2}},
         "color": {"field": "c", "type": "nominal", "scale": {"domain": ["NN", "NC"], "range": ["#000000", "#ec1c24"]}, "legend": null}
       }},
      {"data": {"name": "expr"},
       "transform": [{"filter": "datum.g === 'Rbm3'"}],
       "mark": {"type": "errorbar", "ticks": {"size": 7, "thickness": 2}, "rule": {"strokeWidth": 2}},
       "encoding": {
         "x": {"field": "t", "type": "quantitative", "axis": null},
         "y": {"field": "v", "type": "quantitative", "axis": {"values": [0, 2, 4], "title": null, "offset": 7, "tickSize": 5, "labelFontSize": 17, "labelPadding": 2}},
         "yError": {"field": "e"},
         "color": {"field": "c", "type": "nominal", "legend": null}
       }},
      {"data": {"name": "expr"},
       "transform": [{"filter": "datum.g === 'Rbm3'"}],
       "mark": {"type": "point", "shape": "square", "filled": true, "size": 20, "opacity": 1},
       "encoding": {
         "x": {"field": "t", "type": "quantitative", "axis": {"orient": "top", "title": "Rbm3", "labels": false, "ticks": false, "tickSize": 0, "domain": false, "titleFontSize": 20, "titlePadding": 6}},
         "y": {"field": "v", "type": "quantitative", "axis": {"values": [0, 2, 4], "title": null, "offset": 7, "tickSize": 5, "labelFontSize": 17, "labelPadding": 2}},
         "color": {"field": "c", "type": "nominal", "legend": null}
       }},
      {"data": {"name": "tags"},
       "transform": [{"filter": "datum.g === 'Rbm3'"}],
       "mark": {"type": "text", "fontSize": 16, "align": "center", "baseline": "middle"},
       "encoding": {
         "x": {"field": "t", "type": "quantitative", "axis": null},
         "y": {"field": "v", "type": "quantitative", "axis": {"values": [0, 2, 4], "title": null, "offset": 7, "tickSize": 5, "labelFontSize": 17, "labelPadding": 2}},
         "text": {"field": "txt"},
         "color": {"field": "c", "type": "nominal", "legend": null}
       }}
    ],
    "resolve": {"axis": {"x": "independent"}}
  }
]
}
